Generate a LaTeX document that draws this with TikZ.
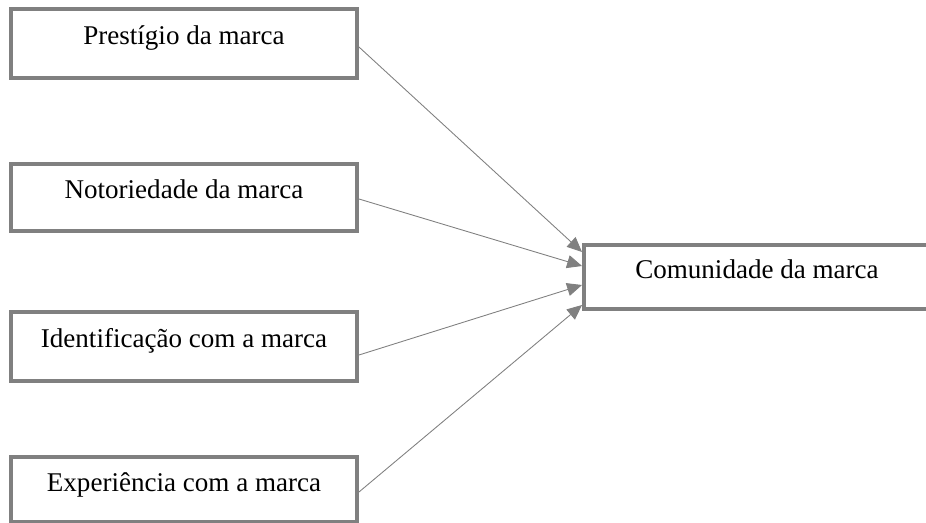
\documentclass[tikz,border=0pt]{standalone}
\usepackage{fontspec}
\setmainfont{Liberation Serif}
\usetikzlibrary{arrows.meta}

\begin{document}
\begin{tikzpicture}[x=0.02cm, y=-0.02cm,
        box/.style = {draw=gray, line width=0.08cm, fill=white, minimum width=6.92cm, text height=0.38cm, text depth=0.32cm, font=\fontsize{15.4}{18}\selectfont},
        link/.style = {draw=gray, line width=0.5pt, -{Triangle[length=8.5pt, width=7.5pt]}}]

    \useasboundingbox (0,0) rectangle (926,523);

    \node[box, minimum height=1.38cm] (pre) at (184, 43.5) {Prestígio da marca};
    \node[box, minimum height=1.34cm] (not) at (184, 197.5) {Notoriedade da marca};
    \node[box, minimum height=1.38cm] (ide) at (184, 346.5) {Identificação com a marca};
    \node[box, minimum height=1.30cm] (exp) at (184, 489.5) {Experiência com a marca};

    \node[box, minimum height=1.28cm] (com) at (757, 277) {Comunidade da marca};

    \draw[link] ([yshift=-0.07cm]pre.east) -- ([yshift=0.5cm]com.west);
    \draw[link] ([yshift=-0.03cm]not.east) -- ([yshift=0.22cm]com.west);
    \draw[link] ([yshift=-0.17cm]ide.east) -- ([yshift=-0.16cm]com.west);
    \draw[link] ([yshift=-0.05cm]exp.east) -- ([yshift=-0.56cm]com.west);
\end{tikzpicture}
\end{document}
